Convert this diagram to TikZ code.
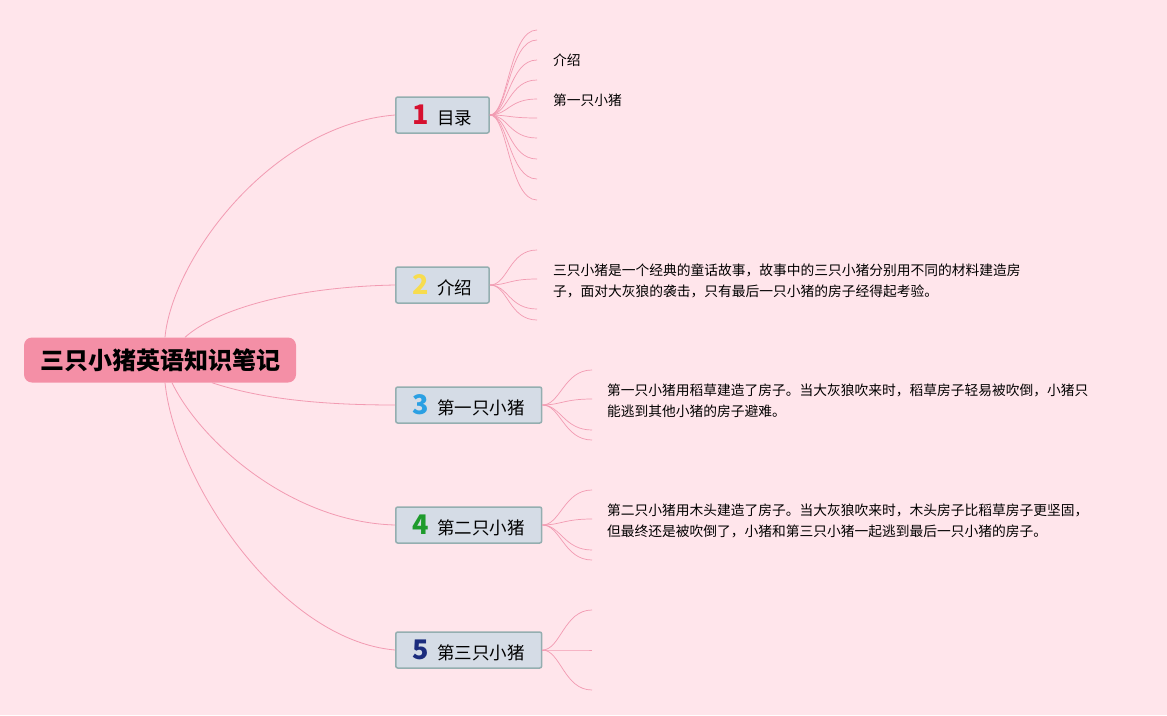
\documentclass[tikz,border=0pt]{standalone}
\usepackage{fontspec}
\setmainfont{Noto Sans CJK SC}
\usepackage{xcolor}
\usepackage{tikz}
\usetikzlibrary{positioning}

\definecolor{bgpink}{HTML}{FFE5EB}
\definecolor{rootpink}{HTML}{F48FA6}
\definecolor{linkpink}{HTML}{F29BB2}
\definecolor{boxfill}{HTML}{D5DCE6}
\definecolor{boxline}{HTML}{94AEB0}
\definecolor{numred}{HTML}{D6102F}
\definecolor{numyellow}{HTML}{F7DC4E}
\definecolor{numblue}{HTML}{2BA0E3}
\definecolor{numgreen}{HTML}{1E9B2C}
\definecolor{numnavy}{HTML}{1B2C7D}

\newcommand{\topicnum}[2]{{\fontsize{27}{27}\selectfont\bfseries\color{#1}#2}\hspace{8pt}}

\begin{document}
\begin{tikzpicture}[
  x=1pt, y=-1pt,
  root/.style={fill=rootpink,rounded corners=8pt,inner xsep=16pt,minimum height=45pt,font=\fontsize{24}{28}\selectfont\bfseries},
  topic/.style={anchor=west,draw=boxline,fill=boxfill,line width=1.5pt,rounded corners=2pt,inner xsep=17pt,minimum height=36pt,font=\fontsize{17.5}{20}\selectfont},
  leaf/.style={anchor=west,inner sep=0pt,align=left,font=\fontsize{13.75}{21}\selectfont},
  link/.style={draw=linkpink,line width=0.8pt},
  twig/.style={draw=linkpink,line width=0.7pt}
]
\useasboundingbox (0,0) rectangle (1167,715);
\fill[bgpink] (0,0) rectangle (1167,715);

\node[root] (root) at (160,360) {三只小猪英语知识笔记};

\node[topic] (mulu) at (395,115) {\topicnum{numred}{1}目录};
\node[topic] (jieshao) at (395,285) {\topicnum{numyellow}{2}介绍};
\node[topic] (pig1) at (395,405) {\topicnum{numblue}{3}第一只小猪};
\node[topic] (pig2) at (395,525) {\topicnum{numgreen}{4}第二只小猪};
\node[topic] (pig3) at (395,650) {\topicnum{numnavy}{5}第三只小猪};

\node[leaf] (muluA) at (553,60) {介绍};
\node[leaf] (muluB) at (553,100) {第一只小猪};
\node[leaf] (jieshaoText) at (553,281) {三只小猪是一个经典的童话故事，故事中的三只小猪分别用不同的材料建造房\\子，面对大灰狼的袭击，只有最后一只小猪的房子经得起考验。};
\node[leaf] (pig1Text) at (607,401) {第一只小猪用稻草建造了房子。当大灰狼吹来时，稻草房子轻易被吹倒，小猪只\\能逃到其他小猪的房子避难。};
\node[leaf] (pig2Text) at (607,521) {第二只小猪用木头建造了房子。当大灰狼吹来时，木头房子比稻草房子更坚固，\\但最终还是被吹倒了，小猪和第三只小猪一起逃到最后一只小猪的房子。};

% root to topics
\draw[link] ([xshift=5pt]root.north) .. controls +(7,-77) and +(-125,10) .. (mulu.west);
\draw[link] ([xshift=25pt]root.north) .. controls +(30,-27) and +(-105,2) .. (jieshao.west);
\draw[link] ([xshift=52pt]root.south) .. controls +(48,16) and +(-75,0) .. (pig1.west);
\draw[link] ([xshift=12pt]root.south) .. controls +(28,58) and +(-105,-3) .. (pig2.west);
\draw[link] ([xshift=5pt]root.south) .. controls +(10,98) and +(-115,-10) .. (pig3.west);

% topic fans
\foreach \y [count=\i] in {30,40,60,80,99,118,138,159,179,200} {
  \coordinate (mulu-\i) at (537,\y);
  \draw[twig] (mulu.east) .. controls +(18,0) and +(-28,0) .. (mulu-\i);
}
\foreach \y [count=\i] in {250,279,309,320} {
  \coordinate (jieshao-\i) at (537,\y);
  \draw[twig] (jieshao.east) .. controls +(18,0) and +(-28,0) .. (jieshao-\i);
}
\foreach \y [count=\i] in {370,399,430,440} {
  \coordinate (pig1-\i) at (592,\y);
  \draw[twig] (pig1.east) .. controls +(18,0) and +(-28,0) .. (pig1-\i);
}
\foreach \y [count=\i] in {490,519,550,560} {
  \coordinate (pig2-\i) at (592,\y);
  \draw[twig] (pig2.east) .. controls +(18,0) and +(-28,0) .. (pig2-\i);
}
\foreach \y [count=\i] in {610,650,690} {
  \coordinate (pig3-\i) at (592,\y);
  \draw[twig] (pig3.east) .. controls +(18,0) and +(-28,0) .. (pig3-\i);
}
\end{tikzpicture}
\end{document}
